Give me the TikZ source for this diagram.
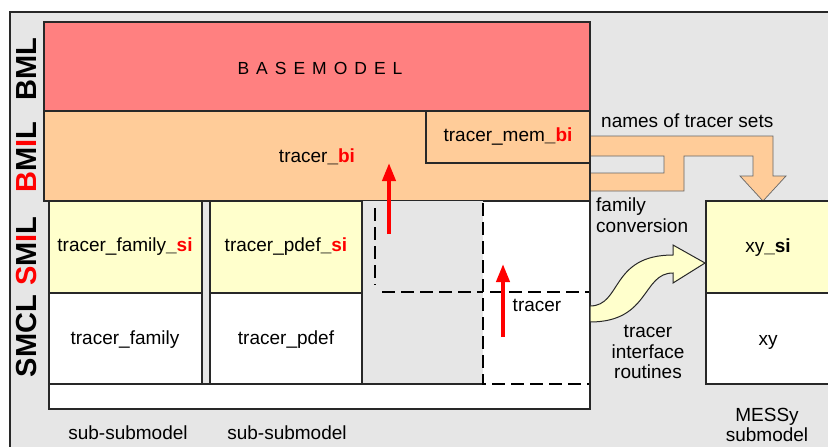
\documentclass[tikz,border=0pt]{standalone}
\usepackage{fontspec}
\setmainfont{Liberation Sans}
\newfontfamily\spacedfont[LetterSpace=40]{Liberation Sans}
\usetikzlibrary{arrows.meta}
\definecolor{bgray}{RGB}{230,230,230}
\definecolor{bmred}{RGB}{255,128,128}
\definecolor{borange}{RGB}{255,204,153}
\definecolor{syellow}{RGB}{255,255,204}
\definecolor{lc}{RGB}{40,40,40}
\begin{document}
\begin{tikzpicture}[x=1pt,y=-1pt,
  font=\fontsize{19}{20.5}\selectfont,
  every node/.style={inner sep=0pt},
  box/.style={draw=lc, line width=1.3pt},
  dashbox/.style={draw=black, line width=2pt, dash pattern=on 13pt off 6pt},
  uparrow/.style={red, line width=4pt, -{Triangle[width=13pt,length=18pt]}},
  lbl/.style={rotate=90, font=\fontsize{29}{30}\selectfont\bfseries},
  bandstyle/.style={draw=black!60, line width=0.7pt, fill=borange},
  curvestyle/.style={draw=lc, line width=1pt, fill=syellow}]
\useasboundingbox (0,0) rectangle (828,447);
% background frame
\fill[bgray] (10,12) rectangle (840,460);
\draw[lc, line width=1.3pt] (10,460) -- (10,12) -- (840,12);
% band arrow (names of tracer sets / family conversion)
\draw[bandstyle] (590,136) -- (773,136) -- (773,176) -- (786,176) -- (763,201) -- (740,176) -- (753,176) -- (753,156) -- (684,156) -- (684,191) -- (590,191) -- (590,173) -- (664,173) -- (664,156) -- (590,156) -- cycle;
% basemodel
\draw[box, fill=bmred] (44,22) rectangle (590,111);
\draw[box, fill=borange] (44,111) rectangle (590,201);
\draw[box] (426,111) rectangle (590,163);
% lower region
\draw[box, fill=white] (49,201) rectangle (590,409);
\draw[box, fill=bgray] (202,201) rectangle (210,384);
\fill[bgray] (362,201) rectangle (483,384);
\draw[box] (362,201) -- (362,384) -- (483,384);
\draw[box] (49,384) -- (362,384);
\draw[box, fill=syellow] (49,201) rectangle (202,293);
\draw[box] (49,293) rectangle (202,384);
\draw[box, fill=syellow] (210,201) rectangle (362,293);
\draw[box] (210,293) rectangle (362,384);
\draw[dashbox] (483,203) -- (483,384) -- (590,384);
\draw[dashbox] (375,208) -- (375,285);
\draw[dashbox] (382,292) -- (483,292);
\draw[dashbox] (490,292) -- (590,292);
\draw[box] (590,201) -- (590,409);
% MESSy submodel
\draw[box, fill=syellow] (706,201) rectangle (840,293);
\draw[box, fill=white] (706,293) rectangle (840,384);
% curved arrow
\draw[curvestyle] (590,306) .. controls (622,306) and (610,255) .. (673,255) -- (673,245) -- (705,263) -- (673,283) -- (673,273) .. controls (642,273) and (650,322) .. (590,322) -- cycle;
% texts
\node (base) at (320,68) {\fontsize{17.5}{17.5}\spacedfont BASEMODEL};
\node (tbi) at (317,157) {tracer\textbf{\_\textcolor{red}{bi}}};
\node (tmem) at (508,137) {tracer\_mem\textbf{\_\textcolor{red}{bi}}};
\node (tfsi) at (125,247) {tracer\_family\textbf{\_\textcolor{red}{si}}};
\node (tpsi) at (286,247) {tracer\_pdef\textbf{\_\textcolor{red}{si}}};
\node (tf) at (125,340) {tracer\_family};
\node (tp) at (286,340) {tracer\_pdef};
\node (tr) at (537,305) {tracer};
\node (xysi) at (768,248) {xy\textbf{\_si}};
\node (xy) at (768,342) {xy};
\node[align=center] (messy) at (767,425) {MESSy\\submodel};
\node (ss1) at (128,433) {sub-submodel};
\node (ss2) at (287,433) {sub-submodel};
\node[anchor=west] (names) at (601,121) {names of tracer sets};
\node[anchor=west, align=left] (fam) at (596,215) {family\\conversion};
\node[align=center] (tir) at (648,352) {tracer\\interface\\routines};
% layer labels
\node[lbl] (bml) at (27,69) {BML};
\node[lbl] (bmil) at (27,157) {\textcolor{red}{B}M\textcolor{red}{I}L};
\node[lbl] (smil) at (27,251) {\textcolor{red}{S}M\textcolor{red}{I}L};
\node[lbl] (smcl) at (27,336) {SMCL};
% red arrows
\coordinate (a1s) at (389,234);
\coordinate (a1e) at (389,163);
\coordinate (a2s) at (503,337);
\coordinate (a2e) at (503,264);
\draw[uparrow] (a1s) -- (a1e);
\draw[uparrow] (a2s) -- (a2e);
\end{tikzpicture}
\end{document}
